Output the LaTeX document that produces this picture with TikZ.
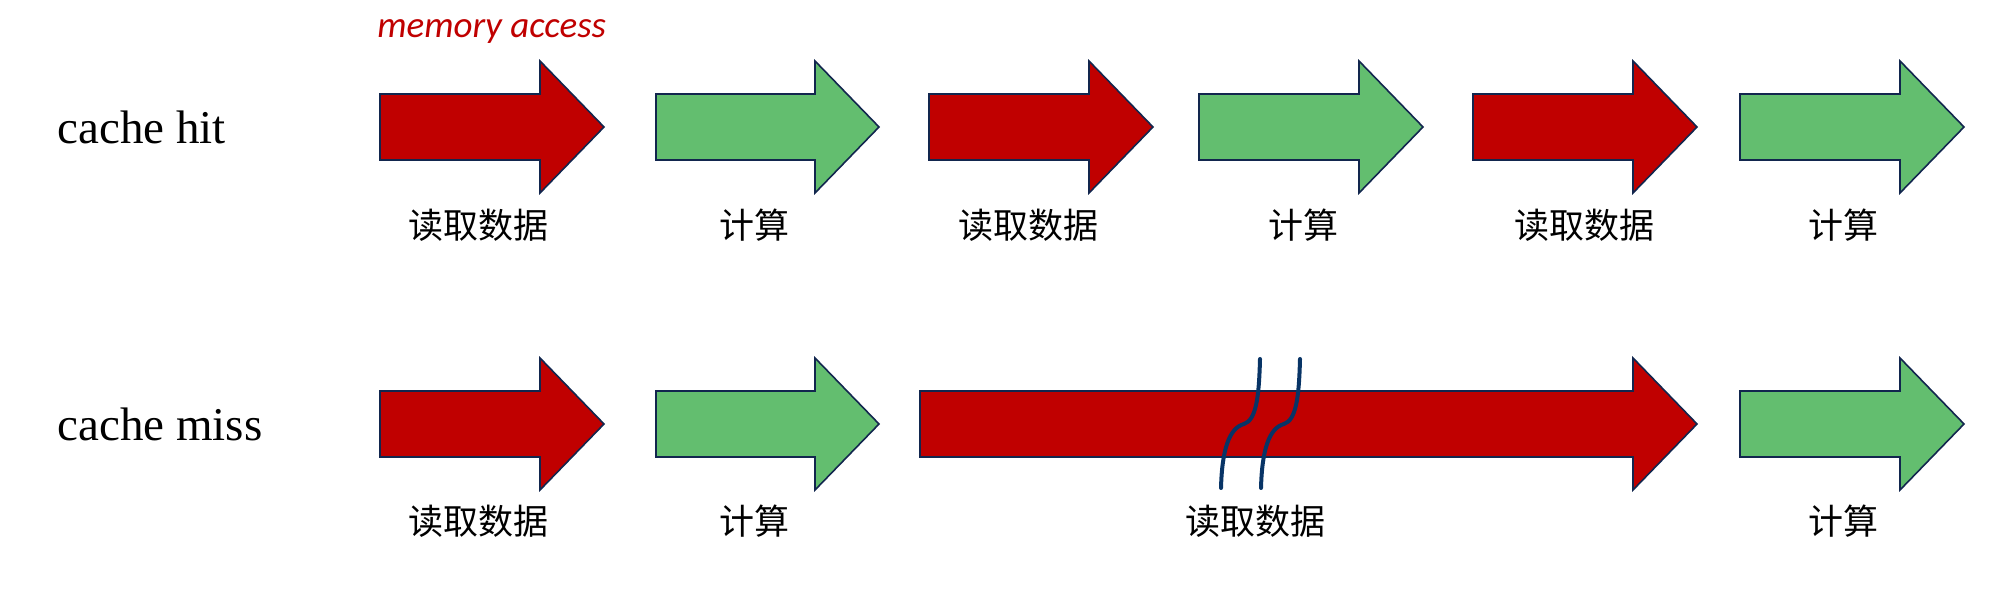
\documentclass[tikz,border=0pt]{standalone}
\usepackage{fontspec}
\setmainfont{Liberation Serif}
\newfontfamily\cjk{Noto Sans CJK SC}
\newfontfamily\calib{Carlito}
\definecolor{dred}{RGB}{192,0,0}
\definecolor{dgreen}{RGB}{99,190,111}
\definecolor{outl}{RGB}{18,38,78}
\definecolor{brk}{RGB}{8,52,102}
\tikzset{
  arrowbox/.style={draw=outl, line width=0.8pt, line join=miter},
  rowlabel/.style={anchor=west, inner sep=0pt, font=\fontsize{23.5pt}{28pt}\selectfont},
  steplabel/.style={inner sep=0pt, font=\cjk\fontsize{17.5pt}{21pt}\selectfont},
  breakline/.style={draw=brk, line width=2pt, line cap=round}
}
\newcommand\barrow[4]{%
  \draw[arrowbox, fill=#1] (#2,#4-33) -- (#3-64,#4-33) -- (#3-64,#4-66) -- (#3,#4)
    -- (#3-64,#4+66) -- (#3-64,#4+33) -- (#2,#4+33) -- cycle;}
\begin{document}
\begin{tikzpicture}[x=0.5pt, y=-0.5pt]
\useasboundingbox (0,0) rectangle (1998,608);
% titles
\node[anchor=west, inner sep=0pt, text=dred, font=\calib\itshape\fontsize{18.5pt}{22pt}\selectfont] (ma) at (377,32) {memory access};
\node[rowlabel] (hit) at (57,127) {cache hit};
\node[rowlabel] (miss) at (57,424) {cache miss};
% row 1
\barrow{dred}{380}{604}{127}
\barrow{dgreen}{656}{879}{127}
\barrow{dred}{929}{1153}{127}
\barrow{dgreen}{1199}{1423}{127}
\barrow{dred}{1473}{1697}{127}
\barrow{dgreen}{1740}{1964}{127}
\node[steplabel] (l11) at (478,225) {读取数据};
\node[steplabel] (l12) at (754,225) {计算};
\node[steplabel] (l13) at (1028,225) {读取数据};
\node[steplabel] (l14) at (1303,225) {计算};
\node[steplabel] (l15) at (1584,225) {读取数据};
\node[steplabel] (l16) at (1843,225) {计算};
% row 2
\barrow{dred}{380}{604}{424}
\barrow{dgreen}{656}{879}{424}
\barrow{dred}{920}{1697}{424}
\barrow{dgreen}{1740}{1964}{424}
\node[steplabel] (l21) at (478,521) {读取数据};
\node[steplabel] (l22) at (754,521) {计算};
\node[steplabel] (l23) at (1255,521) {读取数据};
\node[steplabel] (l24) at (1843,521) {计算};
% break marks
\draw[breakline] (1260,359) .. controls (1259,398) and (1256,420) .. (1244,424)
  .. controls (1229,428) and (1222,450) .. (1221,488);
\draw[breakline] (1300,359) .. controls (1299,398) and (1296,420) .. (1284,424)
  .. controls (1269,428) and (1262,450) .. (1261,488);
\end{tikzpicture}
\end{document}
